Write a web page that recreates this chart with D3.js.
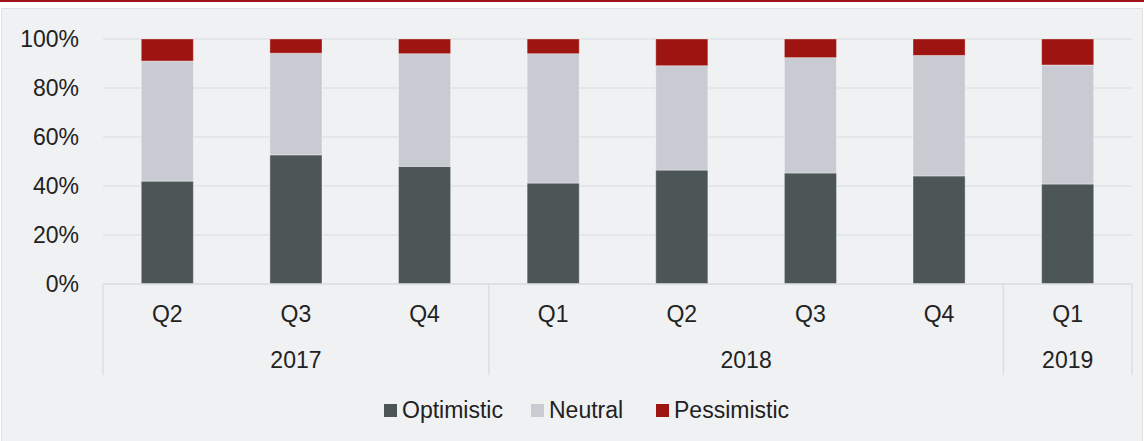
<!DOCTYPE html>
<html>
<head>
<meta charset="utf-8">
<script src="https://cdn.jsdelivr.net/npm/d3@7"></script>
<style>
  html, body { margin: 0; padding: 0; background: #ffffff; }
  #chart-container { width: 1144px; height: 441px; }
  text { font-family: "Liberation Sans", Arial, sans-serif; fill: #222222; }
</style>
</head>
<body>
<div id="chart-container"></div>
<script>
const quarters = ["Q2", "Q3", "Q4", "Q1", "Q2", "Q3", "Q4", "Q1"];
const years = ["2017", "2017", "2017", "2018", "2018", "2018", "2018", "2019"];
const optimistic = [42, 52.7, 48, 41.2, 46.5, 45.3, 44.1, 40.8];
const neutral = [49, 41.5, 46, 52.8, 42.6, 47.1, 49.2, 48.6];
const pessimistic = [9, 5.8, 6, 6, 10.9, 7.6, 6.7, 10.6];
const seriesNames = ["Optimistic", "Neutral", "Pessimistic"];
const yTicks = [0, 20, 40, 60, 80, 100];

const colors = {
    Optimistic: "#4d5657",
    Neutral: "#c8cbd2",
    Pessimistic: "#9e1410"
};

const W = 1144;
const H = 441;
let margin = { top: 39, right: 12, bottom: 157, left: 103 };
let width = W - margin.left - margin.right;
let height = H - margin.top - margin.bottom;

const svg = d3.select("#chart-container")
    .append("svg")
    .attr("width", W)
    .attr("height", H);

// frame
svg.append("rect")
    .attr("x", 1.5).attr("y", 8.5)
    .attr("width", W - 3).attr("height", H - 8)
    .attr("fill", "#f0f1f3")
    .attr("stroke", "#dfe0e3");

svg.append("line")
    .attr("x1", 0).attr("x2", W)
    .attr("y1", 1).attr("y2", 1)
    .attr("stroke", "#a0141a")
    .attr("stroke-width", 2);

const g = svg.append("g")
    .attr("transform", `translate(${margin.left},${margin.top})`);

const keys = quarters.map((q, i) => years[i] + " " + q);
const rows = keys.map((k, i) => ({
    key: k,
    Optimistic: optimistic[i],
    Neutral: neutral[i],
    Pessimistic: pessimistic[i]
}));

const xScale = d3.scaleBand()
    .domain(keys)
    .range([0, width])
    .paddingInner(0.595)
    .paddingOuter(0.2975);

const yScale = d3.scaleLinear()
    .domain([0, 100])
    .range([height, 0]);

// gridlines
g.append("g")
    .selectAll("line")
    .data(yTicks)
    .join("line")
    .attr("x1", 0)
    .attr("x2", width)
    .attr("y1", d => yScale(d))
    .attr("y2", d => yScale(d))
    .attr("stroke", "#e1e3e6")
    .attr("stroke-width", 1.5);

// y axis labels
g.append("g")
    .call(d3.axisLeft(yScale)
        .tickValues(yTicks)
        .tickFormat(d => d + "%")
        .tickSize(0)
        .tickPadding(24))
    .call(a => a.select(".domain").remove())
    .selectAll("text")
    .style("font-size", "23px")
    .style("font-family", "Liberation Sans, Arial, sans-serif")
    .attr("fill", "#222");

// stacked bars
const stack = d3.stack().keys(seriesNames);
const stacked = stack(rows);

g.append("g")
    .selectAll("g")
    .data(stacked)
    .join("g")
    .attr("fill", d => colors[d.key])
    .selectAll("rect")
    .data(d => d)
    .join("rect")
    .attr("x", d => xScale(d.data.key))
    .attr("width", xScale.bandwidth())
    .attr("y", d => yScale(d[1]))
    .attr("height", d => yScale(d[0]) - yScale(d[1]))
    .attr("stroke", "rgba(255,255,255,0.35)")
    .attr("stroke-width", 1);

// x axis: quarter labels
const step = xScale.step();
const x0 = d => xScale(d) - xScale.paddingInner() * step / 2;

g.append("line")
    .attr("x1", 0).attr("x2", width)
    .attr("y1", height).attr("y2", height)
    .attr("stroke", "#dcdee1")
    .attr("stroke-width", 1.5);

g.append("g")
    .selectAll("text")
    .data(keys)
    .join("text")
    .attr("x", d => xScale(d) + xScale.bandwidth() / 2)
    .attr("y", height + 38)
    .attr("text-anchor", "middle")
    .style("font-size", "23px")
    .text((d, i) => quarters[i]);

// year groups
const yearGroups = d3.groups(keys.map((k, i) => ({ k, year: years[i] })), d => d.year);
const bounds = [0];
yearGroups.forEach(([yr, items]) => {
    const last = items[items.length - 1].k;
    bounds.push(x0(last) + step);
});

g.append("g")
    .selectAll("line")
    .data(bounds)
    .join("line")
    .attr("x1", d => d)
    .attr("x2", d => d)
    .attr("y1", height)
    .attr("y2", height + 91)
    .attr("stroke", "#dcdee1")
    .attr("stroke-width", 1.5);

g.append("g")
    .selectAll("text")
    .data(yearGroups)
    .join("text")
    .attr("x", (d, i) => (bounds[i] + bounds[i + 1]) / 2)
    .attr("y", height + 84)
    .attr("text-anchor", "middle")
    .style("font-size", "23px")
    .text(d => d[0]);

// legend
const legendX = [384, 531, 656];
const legend = svg.append("g")
    .selectAll("g")
    .data(seriesNames)
    .join("g")
    .attr("transform", (d, i) => `translate(${legendX[i]},404)`);

legend.append("rect")
    .attr("width", 13)
    .attr("height", 13)
    .attr("fill", d => colors[d]);

legend.append("text")
    .attr("x", 18)
    .attr("y", 14)
    .style("font-size", "23px")
    .text(d => d);
</script>
</body>
</html>
